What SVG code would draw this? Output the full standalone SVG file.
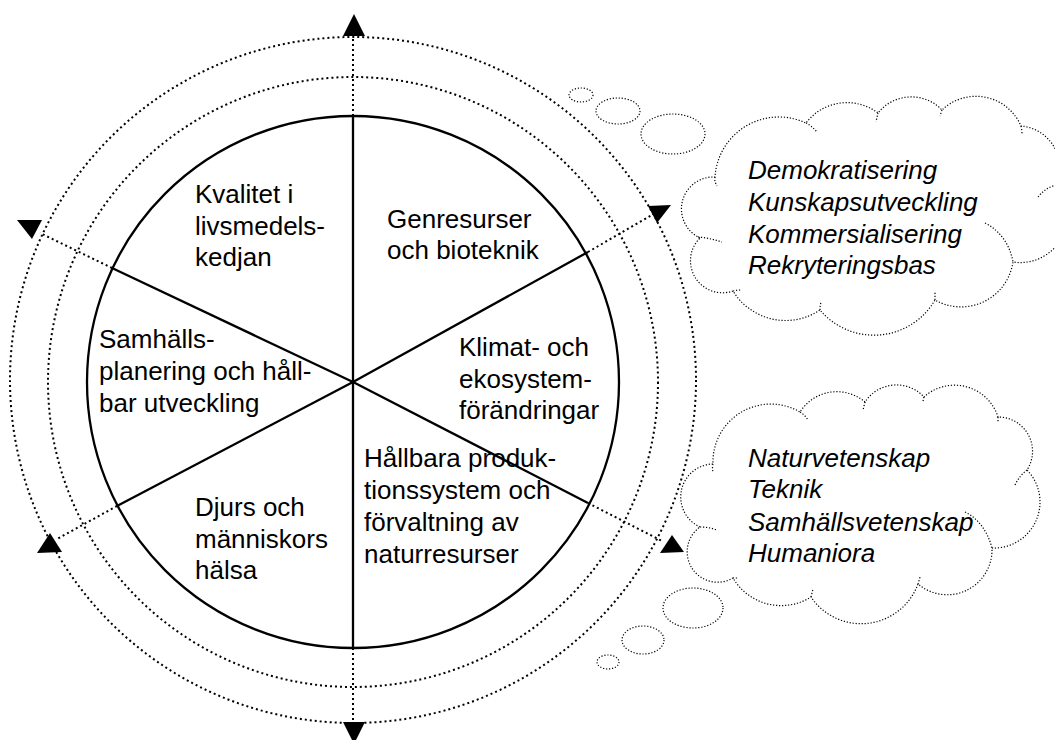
<svg xmlns="http://www.w3.org/2000/svg" width="1055" height="740" viewBox="0 0 1055 740">
<style>
.solid{fill:none;stroke:#000;stroke-width:2.3}
.dot{fill:none;stroke:#000;stroke-width:2;stroke-dasharray:2 3}
.fine{fill:none;stroke:#000;stroke-width:1.2;stroke-dasharray:1.2 1.8}
.arrow{fill:#000;stroke:none}
text{font-family:"Liberation Sans",Arial,Helvetica,sans-serif;font-size:26px;fill:#000}
.it{font-style:italic}
</style>
<rect width="1055" height="740" fill="#fff"/>
<g id="rings">
<circle class="dot" cx="353" cy="380" r="343"/>
<circle class="dot" cx="353" cy="382" r="305"/>
<circle class="solid" cx="353" cy="382" r="266"/>
</g>
<g id="connectors">
<line class="solid" x1="353" y1="116" x2="353" y2="648"/>
<line class="solid" x1="353" y1="382" x2="588" y2="252"/>
<line class="solid" x1="353" y1="382" x2="588" y2="503"/>
<line class="solid" x1="353" y1="382" x2="112" y2="268"/>
<line class="solid" x1="353" y1="382" x2="117" y2="506"/>
<line class="dot" x1="353" y1="116" x2="353" y2="36"/>
<line class="dot" x1="353" y1="648" x2="353" y2="722"/>
<line class="dot" x1="588" y1="252" x2="652" y2="215"/>
<line class="dot" x1="588" y1="503" x2="662" y2="541"/>
<line class="dot" x1="112" y1="268" x2="40" y2="233"/>
<line class="dot" x1="117" y1="506" x2="57" y2="539"/>
<polygon class="arrow" points="354,14 343,36 365,36"/>
<polygon class="arrow" points="343,722 365,722 354,744"/>
<polygon class="arrow" points="648,206 671,205 657,223"/>
<polygon class="arrow" points="17,220 42,220 32,239"/>
<polygon class="arrow" points="50,533 37,553 62,552"/>
<polygon class="arrow" points="672,535 660,553 684,552"/>
</g>
<g id="sector-kvalitet">
<text x="195" y="203">Kvalitet i</text>
<text x="195" y="235">livsmedels-</text>
<text x="195" y="266">kedjan</text>
</g>
<g id="sector-genresurser">
<text x="387" y="228">Genresurser</text>
<text x="387" y="259">och bioteknik</text>
</g>
<g id="sector-samhalls">
<text x="99" y="348">Samhälls-</text>
<text x="99" y="380">planering och håll-</text>
<text x="99" y="412">bar utveckling</text>
</g>
<g id="sector-klimat">
<text x="459" y="356">Klimat- och</text>
<text x="459" y="388">ekosystem-</text>
<text x="459" y="419">förändringar</text>
</g>
<g id="sector-hallbara">
<text x="364" y="467">Hållbara produk-</text>
<text x="364" y="499">tionssystem och</text>
<text x="364" y="531">förvaltning av</text>
<text x="364" y="563">naturresurser</text>
</g>
<g id="sector-djurs">
<text x="195" y="516">Djurs och</text>
<text x="195" y="548">människors</text>
<text x="195" y="579">hälsa</text>
</g>
<g id="cloud-top">
<ellipse class="fine" cx="581" cy="95" rx="12" ry="7"/>
<ellipse class="fine" cx="618" cy="111" rx="22" ry="13"/>
<ellipse class="fine" cx="673" cy="134" rx="32" ry="20"/>
<path class="fine" d="M700,238 A32,32 0 0 1 715,177 A64,64 0 0 1 806,123 A51.5,51.5 0 0 1 878,113 A42.5,42.5 0 0 1 942,110 A49,49 0 0 1 1021,126 A42,42 0 0 1 1056,185 A47,47 0 0 1 1013,262 A52.5,52.5 0 0 1 935,300 A70.5,70.5 0 0 1 820,310 A61.6,61.6 0 0 1 733,291 A32,32 0 0 1 700,238 Z"/>
<path class="fine" d="M715,177 Q714,181 717,186 M806,123 Q812,126 817,132 M878,113 Q877,117 876,122 M942,110 Q941,113 940,116 M1021,126 Q1022,130 1022,134 M1038,197 Q1045,188 1056,185 M985,223 Q1008,235 1013,262 M935,300 Q935,296 935,292 M820,310 Q820,306 821,302 M733,291 Q737,290 741,290 M698,237 Q710,238 722,242"/>
<text class="it" x="748" y="179">Demokratisering</text>
<text class="it" x="748" y="211">Kunskapsutveckling</text>
<text class="it" x="748" y="243">Kommersialisering</text>
<text class="it" x="748" y="274">Rekryteringsbas</text>
</g>
<g id="cloud-bottom">
<ellipse class="fine" cx="693" cy="608" rx="30" ry="20"/>
<ellipse class="fine" cx="643" cy="640" rx="21" ry="14"/>
<ellipse class="fine" cx="608" cy="662" rx="11" ry="7"/>
<path class="fine" d="M700,527 A33,33 0 0 1 713,464 A57.8,57.8 0 0 1 800,412 A43.6,43.6 0 0 1 865,402 A37.5,37.5 0 0 1 924,397 A45.5,45.5 0 0 1 998,417 A34.3,34.3 0 0 1 1027,470 A46,46 0 0 1 992,548 A44.9,44.9 0 0 1 918,584 A60.5,60.5 0 0 1 811,597 A55.9,55.9 0 0 1 733,578 A30.4,30.4 0 0 1 700,527 Z"/>
<path class="fine" d="M713,464 Q712,468 713,472 M800,412 Q805,415 808,420 M865,402 Q864,406 863,410 M924,397 Q923,400 923,403 M998,417 Q998,420 998,423 M1015,485 Q1020,475 1027,470 M965,512 Q985,522 992,548 M918,584 Q919,581 920,577 M811,597 Q812,593 813,589 M733,578 Q735,578 738,578 M700,527 Q709,527 717,530"/>
<text class="it" x="748" y="467">Naturvetenskap</text>
<text class="it" x="748" y="498">Teknik</text>
<text class="it" x="748" y="531">Samhällsvetenskap</text>
<text class="it" x="748" y="562">Humaniora</text>
</g>
</svg>
